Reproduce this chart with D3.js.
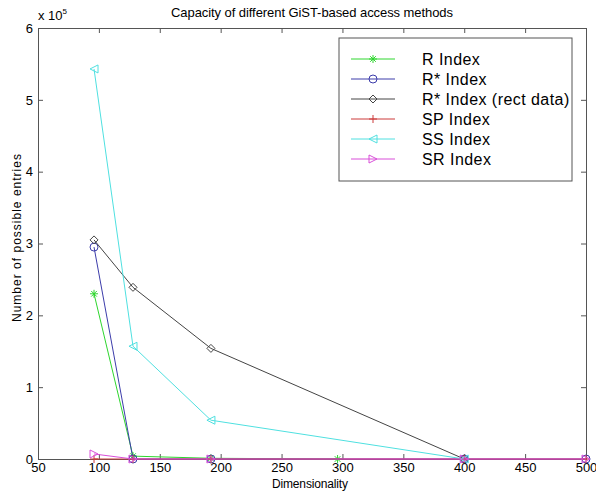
<!DOCTYPE html>
<html>
<head>
<meta charset="utf-8">
<script src="https://cdn.jsdelivr.net/npm/d3@7"></script>
<style>
  body { margin: 0; background: #fff; }
  text { font-family: "Liberation Sans", Arial, sans-serif; fill: #000; }
</style>
</head>
<body>
<div id="chart"></div>
<script>
const width = 596, height = 492;
const margin = {top: 28, right: 10, bottom: 33, left: 38};
const innerWidth = 586 - margin.left;
const innerHeight = 459 - margin.top;

// data (y values in units of 10^5)
const seriesNames = ["R Index", "R* Index", "R* Index (rect data)", "SP Index", "SS Index", "SR Index"];
const seriesColors = ["#2ed62e", "#3c3caa", "#444444", "#cc3b3b", "#4fe0e0", "#d94fd9"];
const seriesMarkers = ["star", "circle", "diamond", "plus", "triLeft", "triRight"];
const rX = [96, 128, 192, 296];
const rY = [2.30, 0.04, 0.01, 0];
const rStarX = [96, 128, 192, 400, 500];
const rStarY = [2.95, 0, 0, 0, 0];
const rRectX = [96, 128, 192, 400];
const rRectY = [3.05, 2.39, 1.54, 0];
const spX = [96, 128, 192, 400, 500];
const spY = [0, 0, 0, 0, 0];
const ssX = [96, 128, 192, 400];
const ssY = [5.43, 1.57, 0.54, 0];
const srX = [96, 128, 192, 400, 500];
const srY = [0.07, 0, 0, 0, 0];
const xTicks = [50, 100, 150, 200, 250, 300, 350, 400, 450, 500];
const yTicks = [0, 1, 2, 3, 4, 5, 6];

const seriesX = [rX, rStarX, rRectX, spX, ssX, srX];
const seriesY = [rY, rStarY, rRectY, spY, ssY, srY];
const series = seriesNames.map((name, i) => ({
  name, color: seriesColors[i], marker: seriesMarkers[i],
  points: seriesX[i].map((x, j) => ({x, y: seriesY[i][j]}))
}));

const svg = d3.select("#chart").append("svg")
  .attr("width", width).attr("height", height);

const inner = svg.append("g")
  .attr("transform", `translate(${margin.left}, ${margin.top})`);

const xScale = d3.scaleLinear().domain([50, 500]).range([0, innerWidth]);
const yScale = d3.scaleLinear().domain([0, 6]).range([innerHeight, 0]);

// axes with inward ticks, MATLAB-style box
const axisColor = "#555";
const styleAxis = g => {
  g.select(".domain").attr("stroke", axisColor);
  g.selectAll(".tick line").attr("stroke", axisColor);
};
inner.append("g").attr("transform", `translate(0, ${innerHeight})`)
  .call(d3.axisBottom(xScale).tickValues(xTicks).tickSize(-5).tickPadding(4).tickSizeOuter(0))
  .call(styleAxis);
inner.append("g")
  .call(d3.axisTop(xScale).tickValues(xTicks).tickSize(-5).tickFormat("").tickSizeOuter(0))
  .call(styleAxis);
inner.append("g")
  .call(d3.axisLeft(yScale).tickValues(yTicks).tickFormat(d3.format("d")).tickSize(-5).tickPadding(5).tickSizeOuter(0))
  .call(styleAxis);
inner.append("g").attr("transform", `translate(${innerWidth}, 0)`)
  .call(d3.axisRight(yScale).tickValues(yTicks).tickSize(-5).tickFormat("").tickSizeOuter(0))
  .call(styleAxis);
inner.selectAll(".tick text").style("font-size", "13px").style("font-family", "'Liberation Sans', Arial, sans-serif");

// markers
const drawMarker = (g, type, color) => {
  const s = 4;
  if (type === "star") {
    g.append("path").attr("d", `M${-s},0H${s}M0,${-s}V${s}M${-s*0.7},${-s*0.7}L${s*0.7},${s*0.7}M${-s*0.7},${s*0.7}L${s*0.7},${-s*0.7}`)
      .attr("stroke", color).attr("fill", "none");
  } else if (type === "circle") {
    g.append("circle").attr("r", s).attr("stroke", color).attr("fill", "none");
  } else if (type === "diamond") {
    g.append("path").attr("d", `M0,${-s}L${s},0L0,${s}L${-s},0Z`).attr("stroke", color).attr("fill", "none");
  } else if (type === "plus") {
    g.append("path").attr("d", `M${-s},0H${s}M0,${-s}V${s}`).attr("stroke", color).attr("fill", "none");
  } else if (type === "triLeft") {
    g.append("path").attr("d", `M${-s},0L${s},${-s}L${s},${s}Z`).attr("stroke", color).attr("fill", "none");
  } else if (type === "triRight") {
    g.append("path").attr("d", `M${s},0L${-s},${-s}L${-s},${s}Z`).attr("stroke", color).attr("fill", "none");
  }
};

const line = d3.line().x(d => xScale(d.x)).y(d => yScale(d.y));

series.forEach(s => {
  inner.append("path").datum(s.points)
    .attr("d", line)
    .attr("fill", "none")
    .attr("stroke", s.color)
    .attr("stroke-width", 1);
  s.points.forEach(p => {
    const g = inner.append("g").attr("transform", `translate(${xScale(p.x)}, ${yScale(p.y)})`);
    drawMarker(g, s.marker, s.color);
  });
});

// title and labels
svg.append("text").text("Capacity of different GiST-based access methods")
  .attr("x", 312).attr("y", 17).attr("text-anchor", "middle").style("font-size", "13px")
  .attr("textLength", 282).attr("lengthAdjust", "spacing");
const expo = svg.append("text").attr("x", 38).attr("y", 20).style("font-size", "13px");
expo.append("tspan").text("x 10");
expo.append("tspan").text("5").attr("dy", -6).style("font-size", "8px");
svg.append("text").text("Dimensionality")
  .attr("x", 310).attr("y", 488).attr("text-anchor", "middle").style("font-size", "12px")
  .attr("textLength", 76).attr("lengthAdjust", "spacing");
svg.append("text").text("Number of possible entries")
  .attr("transform", `translate(21, ${238}) rotate(-90)`)
  .attr("text-anchor", "middle").style("font-size", "12px")
  .attr("textLength", 168).attr("lengthAdjust", "spacing");

// legend
const legend = svg.append("g").attr("transform", "translate(339, 38)");
legend.append("rect").attr("width", 233).attr("height", 143)
  .attr("fill", "#fff").attr("stroke", axisColor);
series.forEach((s, i) => {
  const g = legend.append("g").attr("transform", `translate(0, ${21 + i * 20})`);
  g.append("line").attr("x1", 12).attr("x2", 56).attr("stroke", s.color);
  drawMarker(g.append("g").attr("transform", "translate(34, 0)"), s.marker, s.color);
  g.append("text").text(s.name).attr("x", 83).attr("y", 6).style("font-size", "16px")
    .style("letter-spacing", "0.45px");
});
</script>
</body>
</html>
